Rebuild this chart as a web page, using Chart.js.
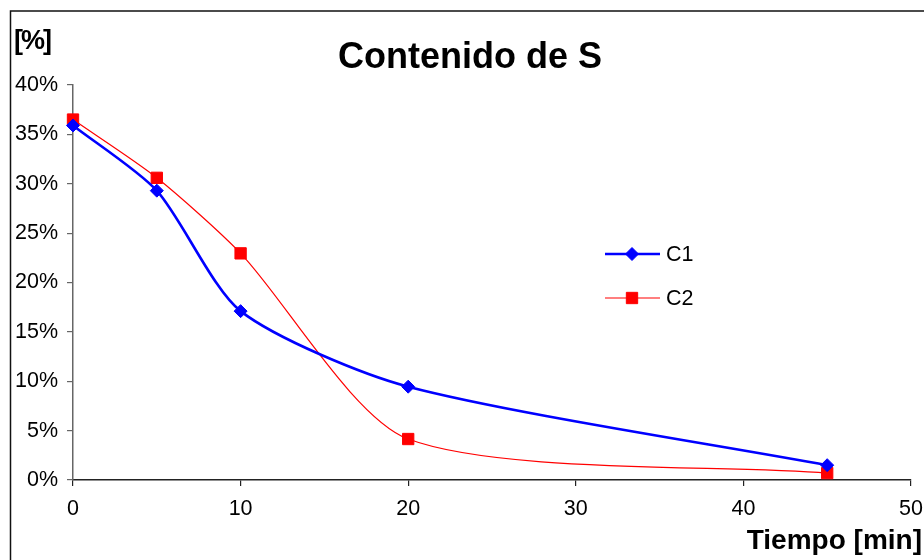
<!DOCTYPE html>
<html>
<head>
<meta charset="utf-8">
<script src="https://cdn.jsdelivr.net/npm/chart.js@4.4.1/dist/chart.umd.min.js"></script>
<style>
  html, body { margin: 0; padding: 0; background: #fff; }
  #wrap { width: 924px; height: 560px; position: relative; }
</style>
</head>
<body>
<div id="wrap"><canvas id="c" width="924" height="560"></canvas></div>
<script>
// Sulfur content over time for two runs
const tiempo = [0, 5, 10, 20, 45];
const c1 = [35.9, 29.3, 17.1, 9.45, 1.5];
const c2 = [36.5, 30.6, 22.95, 4.15, 0.7];
const xTicks = [0, 10, 20, 30, 40, 50];
const yTicks = [0, 5, 10, 15, 20, 25, 30, 35, 40];

const FONT = "'Liberation Sans', Arial, sans-serif";

// Frame, title, axis captions and the in-plot legend
const decor = {
  id: 'decor',
  afterDraw(chart) {
    const ctx = chart.ctx;
    ctx.save();
    // outer frame (right and bottom edges fall outside the canvas)
    ctx.strokeStyle = '#111';
    ctx.lineWidth = 1.5;
    ctx.strokeRect(10.5, 11, 940, 600);

    ctx.fillStyle = '#000';
    ctx.textBaseline = 'alphabetic';
    ctx.font = 'bold 36px ' + FONT;
    ctx.textAlign = 'center';
    ctx.fillText('Contenido de S', 470, 68);

    ctx.font = 'bold 27px ' + FONT;
    ctx.textAlign = 'left';
    ctx.letterSpacing = '-2px';
    ctx.fillText('[%]', 14, 49);
    ctx.letterSpacing = '0px';

    ctx.font = 'bold 28px ' + FONT;
    ctx.textAlign = 'right';
    ctx.fillText('Tiempo [min]', 922, 549);

    // legend
    const rows = [254, 298];
    chart.data.datasets.forEach((ds, i) => {
      const y = rows[i];
      ctx.strokeStyle = ds.borderColor;
      ctx.lineWidth = ds.borderWidth;
      ctx.beginPath();
      ctx.moveTo(605, y);
      ctx.lineTo(660, y);
      ctx.stroke();
      ctx.fillStyle = ds.pointBackgroundColor;
      ctx.strokeStyle = ds.pointBorderColor;
      ctx.lineWidth = 1;
      Chart.helpers.drawPoint(ctx, {
        pointStyle: ds.pointStyle,
        radius: ds.pointRadius,
        borderWidth: 1
      }, 632, y);
      ctx.fillStyle = '#000';
      ctx.font = '21.5px ' + FONT;
      ctx.textAlign = 'left';
      ctx.textBaseline = 'middle';
      ctx.fillText(ds.label, 666, y + 1);
    });
    ctx.restore();
  }
};

new Chart(document.getElementById('c'), {
  type: 'line',
  data: {
    datasets: [
      {
        label: 'C1',
        data: tiempo.map((t, i) => ({ x: t, y: c1[i] })),
        borderColor: '#0000ff',
        backgroundColor: '#0000ff',
        pointBackgroundColor: '#0000ff',
        pointBorderColor: '#0000ff',
        borderWidth: 2.6,
        pointStyle: 'rectRot',
        pointRadius: 6.5,
        pointBorderWidth: 1,
        tension: 0.25,
        fill: false,
        clip: false
      },
      {
        label: 'C2',
        data: tiempo.map((t, i) => ({ x: t, y: c2[i] })),
        borderColor: '#ff0000',
        backgroundColor: '#ff0000',
        pointBackgroundColor: '#ff0000',
        pointBorderColor: '#ff0000',
        borderWidth: 1.2,
        pointStyle: 'rect',
        pointRadius: 8,
        pointBorderWidth: 1,
        tension: 0.25,
        fill: false,
        clip: false
      }
    ]
  },
  options: {
    responsive: false,
    animation: false,
    events: [],
    layout: { padding: { top: 85, right: 13, left: 0, bottom: 0 } },
    plugins: {
      legend: { display: false },
      title: { display: false },
      tooltip: { enabled: false }
    },
    scales: {
      x: {
        type: 'linear',
        min: 0,
        max: 50,
        afterBuildTicks(scale) { scale.ticks = xTicks.map(v => ({ value: v })); },
        afterFit(scale) {
          scale.height = 80;
          scale.paddingLeft = 0;
          scale.paddingRight = 0;
        },
        grid: { drawOnChartArea: false, drawTicks: true, tickLength: 6, color: '#222', lineWidth: 1.2 },
        border: { color: '#222', width: 1.5 },
        ticks: {
          color: '#000',
          font: { family: FONT, size: 21.5 },
          padding: 10,
          maxRotation: 0,
          callback: v => String(v)
        }
      },
      y: {
        min: 0,
        max: 40,
        afterBuildTicks(scale) { scale.ticks = yTicks.map(v => ({ value: v })); },
        afterFit(scale) {
          scale.width = 73;
          scale.paddingTop = 0;
          scale.paddingBottom = 0;
        },
        grid: { drawOnChartArea: false, drawTicks: true, tickLength: 6, color: '#666', lineWidth: 1.2 },
        border: { color: '#666', width: 1.5 },
        ticks: {
          color: '#000',
          font: { family: FONT, size: 21.5 },
          padding: 9,
          callback: v => v + '%'
        }
      }
    }
  },
  plugins: [decor]
});
</script>
</body>
</html>
